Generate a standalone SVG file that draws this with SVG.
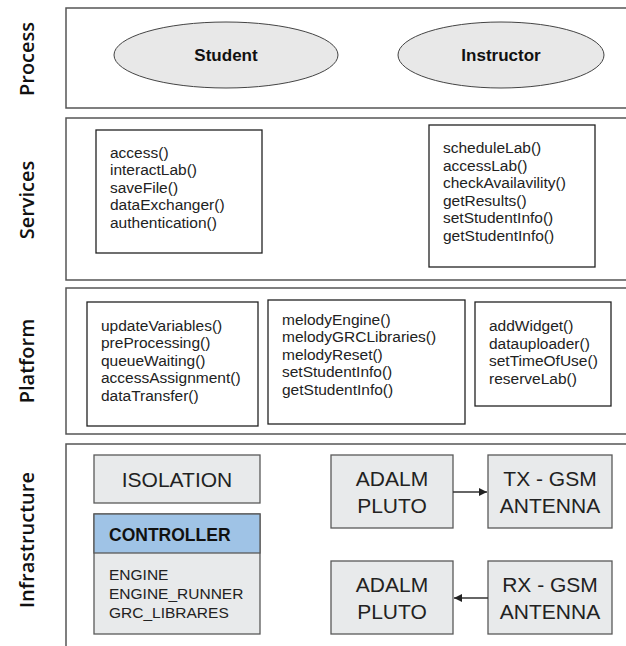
<svg xmlns="http://www.w3.org/2000/svg" width="626" height="646" viewBox="0 0 626 646">
  <defs>
    <marker id="arrow" viewBox="0 0 10 10" refX="10" refY="5" markerWidth="10" markerHeight="8" markerUnits="userSpaceOnUse" orient="auto">
      <path d="M0,0 L10,5 L0,10 Z" fill="#222"/>
    </marker>
    <style>
      .band { fill: #fff; stroke: #555; stroke-width: 1.5; }
      .layer { font-family: "Open Sans", "Noto Sans", sans-serif; font-weight: 600; font-size: 20px; fill: #111; text-anchor: middle; }
      .actor { fill: #e8e8e8; stroke: #444; stroke-width: 1; }
      .actor-t { font-family: "Liberation Sans", Arial, sans-serif; font-weight: bold; font-size: 17px; fill: #111; text-anchor: middle; }
      .box { fill: #fff; stroke: #222; stroke-width: 1.3; }
      .fn { font-family: "Liberation Sans", Arial, sans-serif; font-size: 15.5px; fill: #222; }
      .hw { fill: #e8eaeb; stroke: #595959; stroke-width: 1.3; }
      .hw-t { font-family: "Liberation Sans", Arial, sans-serif; font-size: 21px; fill: #222; text-anchor: middle; }
      .ctrl-h { fill: #9fc3e6; stroke: #595959; stroke-width: 1.3; }
      .ctrl-t { font-family: "Liberation Sans", Arial, sans-serif; font-weight: bold; font-size: 17.5px; fill: #111; }
      .conn { stroke: #333; stroke-width: 1.3; fill: none; }
    </style>
  </defs>

  <rect width="626" height="646" fill="#fff"/>

  <!-- layer bands -->
  <g id="band-process">
    <rect class="band" x="66" y="8" width="580" height="100"/>
    <text class="layer" transform="translate(34 59) rotate(-90)">Process</text>
  </g>
  <g id="band-services">
    <rect class="band" x="66" y="118" width="580" height="162"/>
    <text class="layer" transform="translate(34 200) rotate(-90)">Services</text>
  </g>
  <g id="band-platform">
    <rect class="band" x="66" y="288" width="580" height="146"/>
    <text class="layer" transform="translate(34 361) rotate(-90)">Platform</text>
  </g>
  <g id="band-infrastructure">
    <rect class="band" x="66" y="444" width="580" height="220"/>
    <text class="layer" transform="translate(34 540) rotate(-90)">Infrastructure</text>
  </g>

  <!-- process actors -->
  <g id="student">
    <ellipse class="actor" cx="226" cy="55" rx="112" ry="33"/>
    <text class="actor-t" x="226" y="61">Student</text>
  </g>
  <g id="instructor">
    <ellipse class="actor" cx="501" cy="55" rx="103" ry="33"/>
    <text class="actor-t" x="501" y="61">Instructor</text>
  </g>

  <!-- services -->
  <g id="student-services">
    <rect class="box" x="96" y="130" width="166" height="123"/>
    <text class="fn" x="110" y="158">access()</text>
    <text class="fn" x="110" y="175">interactLab()</text>
    <text class="fn" x="110" y="193">saveFile()</text>
    <text class="fn" x="110" y="210">dataExchanger()</text>
    <text class="fn" x="110" y="228">authentication()</text>
  </g>
  <g id="instructor-services">
    <rect class="box" x="429" y="125" width="166" height="142"/>
    <text class="fn" x="443" y="153">scheduleLab()</text>
    <text class="fn" x="443" y="171">accessLab()</text>
    <text class="fn" x="443" y="188">checkAvailavility()</text>
    <text class="fn" x="443" y="206">getResults()</text>
    <text class="fn" x="443" y="223">setStudentInfo()</text>
    <text class="fn" x="443" y="241">getStudentInfo()</text>
  </g>

  <!-- platform -->
  <g id="platform-queue">
    <rect class="box" x="87" y="302" width="171" height="124"/>
    <text class="fn" x="101" y="331">updateVariables()</text>
    <text class="fn" x="101" y="348">preProcessing()</text>
    <text class="fn" x="101" y="366">queueWaiting()</text>
    <text class="fn" x="101" y="383">accessAssignment()</text>
    <text class="fn" x="101" y="401">dataTransfer()</text>
  </g>
  <g id="platform-melody">
    <rect class="box" x="268" y="300" width="197" height="124"/>
    <text class="fn" x="282" y="325">melodyEngine()</text>
    <text class="fn" x="282" y="342">melodyGRCLibraries()</text>
    <text class="fn" x="282" y="360">melodyReset()</text>
    <text class="fn" x="282" y="377">setStudentInfo()</text>
    <text class="fn" x="282" y="395">getStudentInfo()</text>
  </g>
  <g id="platform-lab">
    <rect class="box" x="475" y="302" width="136" height="104"/>
    <text class="fn" x="489" y="331">addWidget()</text>
    <text class="fn" x="489" y="349">datauploader()</text>
    <text class="fn" x="489" y="366">setTimeOfUse()</text>
    <text class="fn" x="489" y="384">reserveLab()</text>
  </g>

  <!-- infrastructure -->
  <g id="isolation">
    <rect class="hw" x="94" y="455" width="166" height="48"/>
    <text class="hw-t" x="177" y="487">ISOLATION</text>
  </g>
  <g id="controller">
    <rect class="hw" x="94" y="514" width="166" height="120"/>
    <rect class="ctrl-h" x="94" y="514" width="166" height="39"/>
    <text class="ctrl-t" x="109" y="541">CONTROLLER</text>
    <text class="fn" x="109" y="580">ENGINE</text>
    <text class="fn" x="109" y="599">ENGINE_RUNNER</text>
    <text class="fn" x="109" y="618">GRC_LIBRARES</text>
  </g>
  <g id="pluto-tx">
    <rect class="hw" x="331" y="455" width="122" height="73"/>
    <text class="hw-t" x="392" y="486">ADALM</text>
    <text class="hw-t" x="392" y="513">PLUTO</text>
  </g>
  <g id="tx-antenna">
    <rect class="hw" x="488" y="455" width="124" height="73"/>
    <text class="hw-t" x="550" y="486">TX - GSM</text>
    <text class="hw-t" x="550" y="513">ANTENNA</text>
  </g>
  <g id="pluto-rx">
    <rect class="hw" x="331" y="561" width="122" height="73"/>
    <text class="hw-t" x="392" y="592">ADALM</text>
    <text class="hw-t" x="392" y="619">PLUTO</text>
  </g>
  <g id="rx-antenna">
    <rect class="hw" x="488" y="561" width="124" height="73"/>
    <text class="hw-t" x="550" y="592">RX - GSM</text>
    <text class="hw-t" x="550" y="619">ANTENNA</text>
  </g>

  <!-- connectors -->
  <g id="connectors">
    <line class="conn" x1="453" y1="492" x2="487" y2="492" marker-end="url(#arrow)"/>
    <line class="conn" x1="488" y1="598" x2="454" y2="598" marker-end="url(#arrow)"/>
  </g>
</svg>
